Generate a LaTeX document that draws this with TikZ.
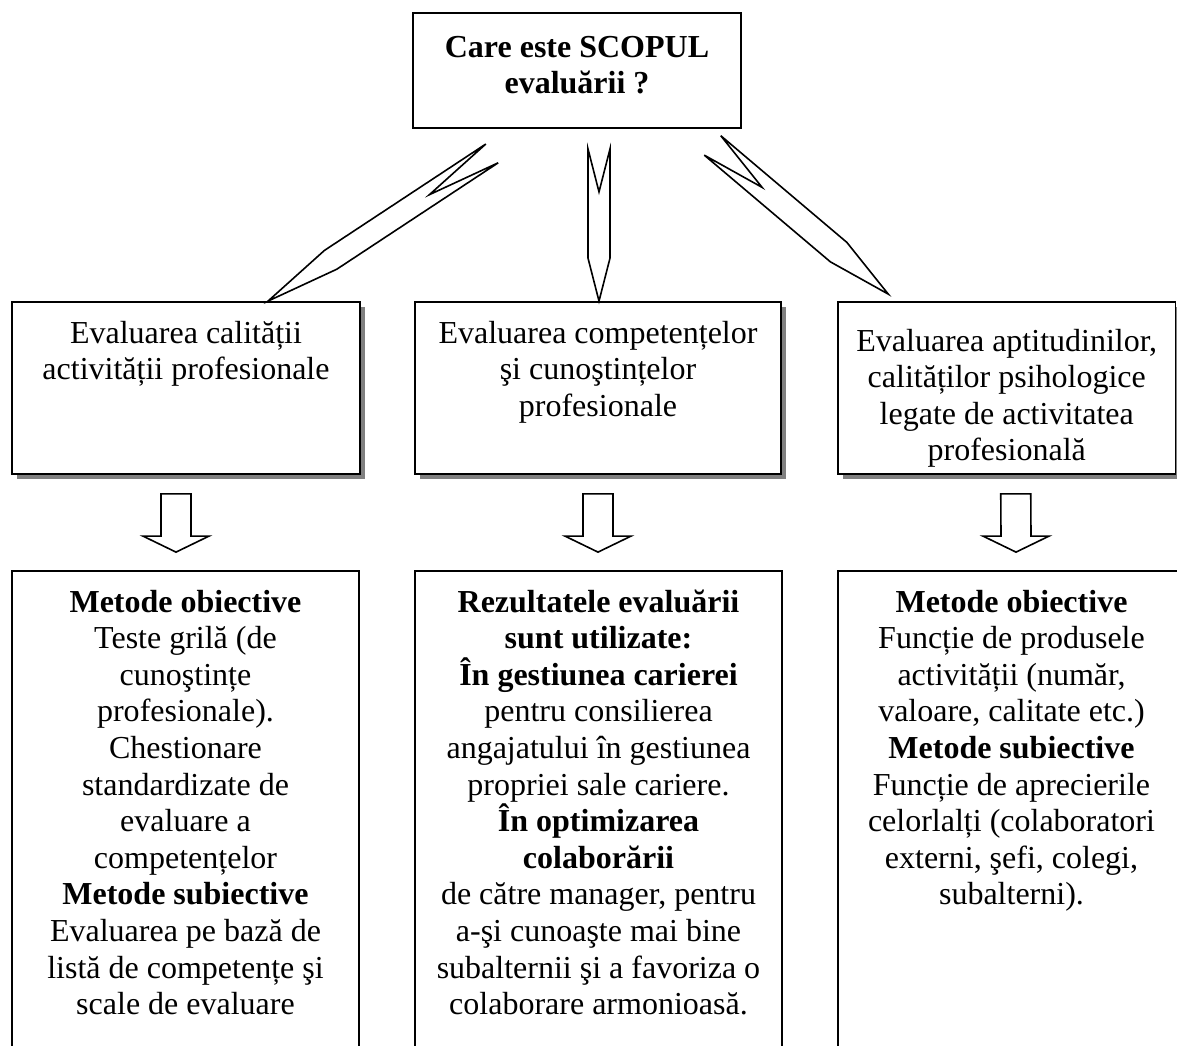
\documentclass[tikz,border=0pt]{standalone}
\usepackage{fontspec}
\setmainfont{Liberation Serif}
\usetikzlibrary{calc,shadows}

\newcommand{\boxtext}[3]{\parbox[c][#1][t]{#2}{\centering\strut #3}}

\newcommand{\boltarrow}[4]{%
  \coordinate (hb) at ($(#2)!#4!(#1)$);
  \coordinate (nt) at ($(#1)!#4!(#2)$);
  \draw[arrowline] ($(#1)!#3!90:(#2)$) -- ($(hb)!#3!90:(#2)$) -- (#2) -- ($(hb)!#3!-90:(#2)$) -- ($(#1)!#3!-90:(#2)$) -- (nt) -- cycle;}

\newcommand{\hollowdown}[2]{%
  \draw[arrowline] ($(#1)+(-15,0)$) -- ($(#2)+(-15,-16)$) -- ($(#2)+(-33,-16)$) -- (#2) -- ($(#2)+(33,-16)$) -- ($(#2)+(15,-16)$) -- ($(#1)+(15,0)$) -- cycle;}

\begin{document}
\begin{tikzpicture}[x=1pt, y=-1pt,
box/.style={draw, fill=white, line width=1.8pt, inner sep=0pt, font=\fontsize{32}{36.6}\selectfont},
shadowbox/.style={box, drop shadow={shadow xshift=5pt, shadow yshift=-5pt, fill=black!50, opacity=1}},
arrowline/.style={draw, fill=white, line width=1.6pt}]

\useasboundingbox (0,0) rectangle (1177,1045);
\clip (0,0) rectangle (1177,1045);

\node[box, minimum width=328pt, minimum height=115pt] (scop) at (577,70.5) {\boxtext{78pt}{320pt}{\textbf{Care este SCOPUL}\\ \textbf{evaluării ?}}};

\node[shadowbox, minimum width=348pt, minimum height=172pt] (cal) at (186,388) {\boxtext{141pt}{340pt}{Evaluarea calității\\ activității profesionale}};
\node[shadowbox, minimum width=366pt, minimum height=172pt] (comp) at (598,388) {\boxtext{141pt}{358pt}{Evaluarea competențelor\\ şi cunoştințelor\\ profesionale}};
\node[shadowbox, minimum width=337.5pt, minimum height=172pt] (apt) at (1006.75,388) {\boxtext{125pt}{330pt}{Evaluarea aptitudinilor,\\ calităților psihologice\\ legate de activitatea\\ profesională}};

\node[box, minimum width=347pt, minimum height=494pt] (met1) at (185.5,818) {\boxtext{463pt}{340pt}{\textbf{Metode obiective}\\ Teste grilă (de\\ cunoştințe\\ profesionale).\\ Chestionare\\ standardizate de\\ evaluare a\\ competențelor\\ \textbf{Metode subiective}\\ Evaluarea pe bază de\\ listă de competențe şi\\ scale de evaluare}};
\node[box, minimum width=367pt, minimum height=494pt] (rez) at (598.5,818) {\boxtext{463pt}{360pt}{\textbf{Rezultatele evaluării}\\ \textbf{sunt utilizate:}\\ \textbf{În gestiunea carierei}\\ pentru consilierea\\ angajatului în gestiunea\\ propriei sale cariere.\\ \textbf{În optimizarea}\\ \textbf{colaborării}\\ de către manager, pentru\\ a-şi cunoaşte mai bine\\ subalternii şi a favoriza o\\ colaborare armonioasă.}};
\node[box, minimum width=347pt, minimum height=494pt] (met3) at (1011.5,818) {\boxtext{463pt}{340pt}{\textbf{Metode obiective}\\ Funcție de produsele\\ activității (număr,\\ valoare, calitate etc.)\\ \textbf{Metode subiective}\\ Funcție de aprecierile\\ celorlalți (colaboratori\\ externi, şefi, colegi,\\ subalterni).}};

\coordinate (b1s) at ([xshift=-85pt,yshift=-24.5pt]scop.south);
\coordinate (b1e) at ([xshift=82pt]cal.north);
\coordinate (b2s) at ([xshift=22pt,yshift=-20pt]scop.south);
\coordinate (b2e) at ([xshift=1pt]comp.north);
\coordinate (b3s) at ([xshift=135.5pt,yshift=-16.5pt]scop.south);
\coordinate (b3e) at ([xshift=-118.5pt,yshift=7pt]apt.north);

\boltarrow{b1s}{b1e}{11.25pt}{75pt}
\boltarrow{b2s}{b2e}{11pt}{43pt}
\boltarrow{b3s}{b3e}{12.75pt}{65pt}

\coordinate (d1s) at ([xshift=-10pt,yshift=-19pt]cal.south);
\coordinate (d1e) at ([xshift=-9.5pt,yshift=18pt]met1.north);
\coordinate (d2s) at ([yshift=-19pt]comp.south);
\coordinate (d2e) at ([xshift=-0.5pt,yshift=18pt]rez.north);
\coordinate (d3s) at ([xshift=9pt,yshift=-19pt]apt.south);
\coordinate (d3e) at ([xshift=4.5pt,yshift=18pt]met3.north);

\hollowdown{d1s}{d1e}
\hollowdown{d2s}{d2e}
\hollowdown{d3s}{d3e}

\end{tikzpicture}
\end{document}
